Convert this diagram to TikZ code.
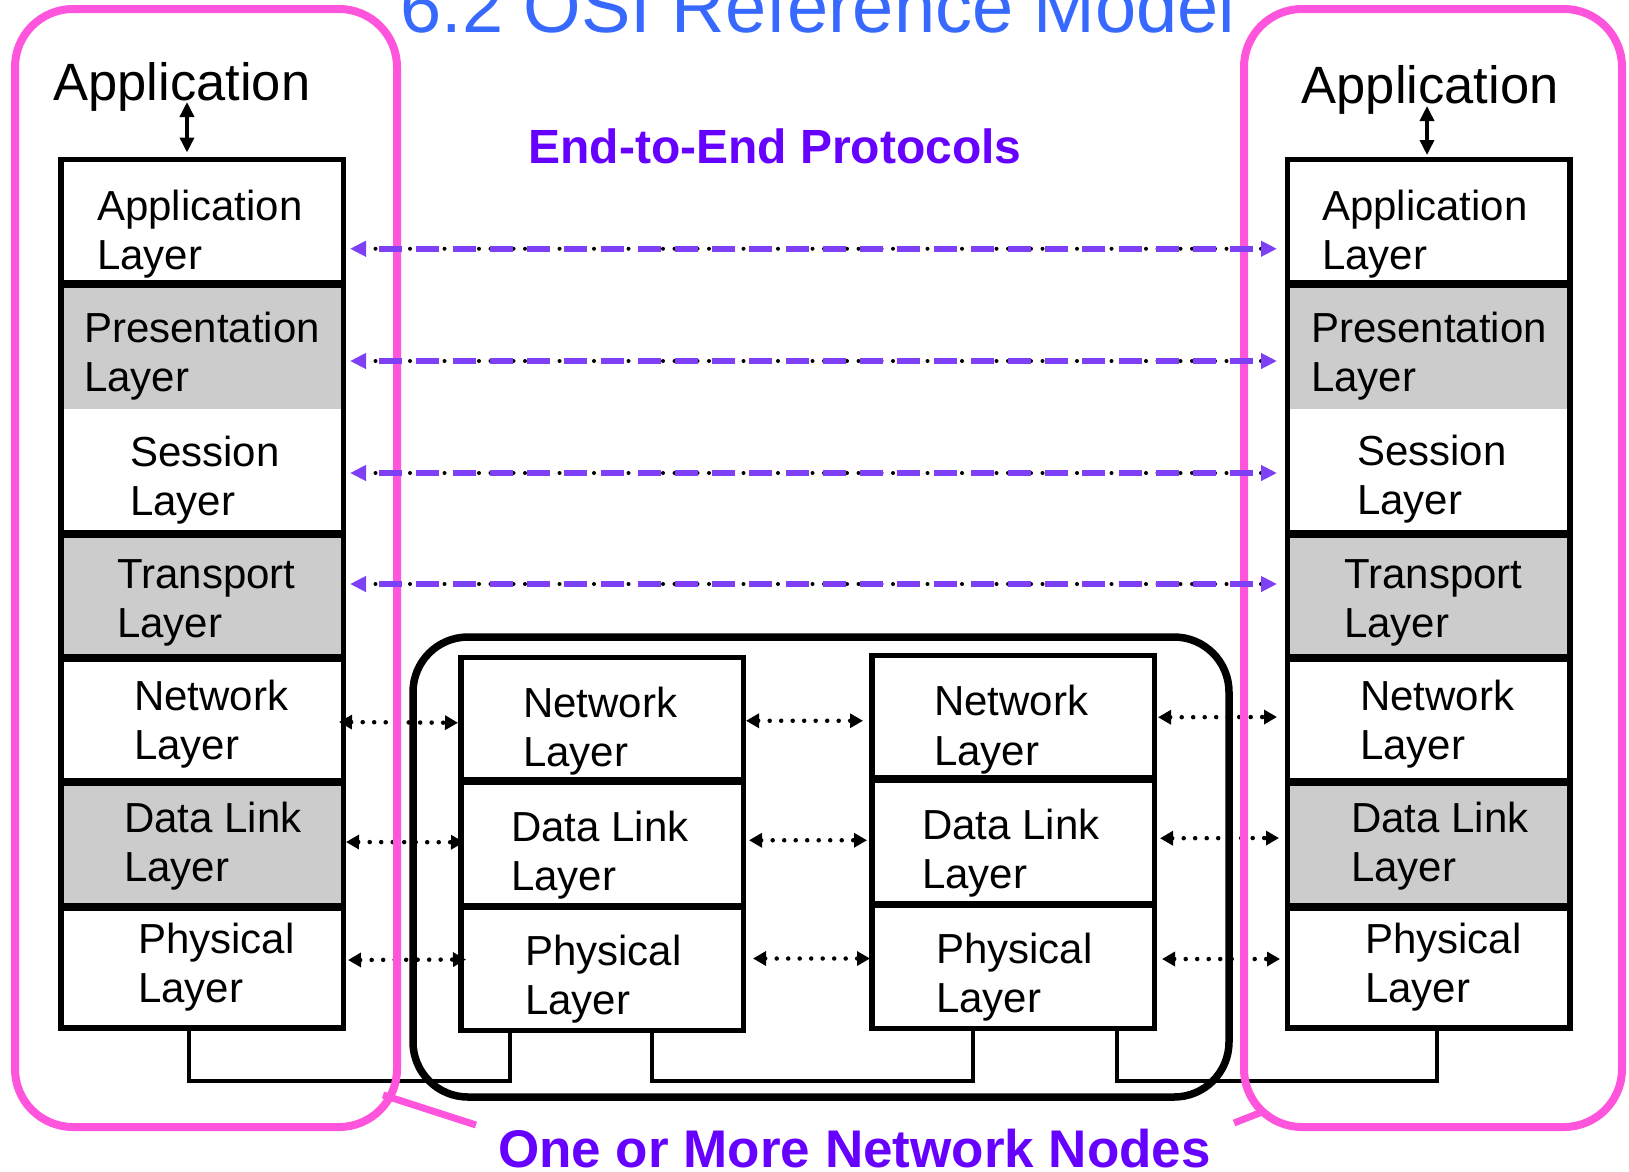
\documentclass[tikz,border=0pt]{standalone}
\usepackage{fontspec}
\setmainfont{Liberation Sans}
\usetikzlibrary{arrows.meta,calc}
\definecolor{titleblue}{RGB}{55,105,255}
\definecolor{txtpurple}{RGB}{102,0,255}
\definecolor{arrpurple}{RGB}{125,64,245}
\definecolor{hostpink}{RGB}{255,85,221}
\definecolor{layergray}{RGB}{204,204,204}
\begin{document}
\begin{tikzpicture}[x=1pt,y=-1pt,
  fillbox/.style={rectangle, inner sep=0pt, outer sep=0pt, minimum width=282.5pt, anchor=north west},
  ltext/.style={anchor=base west, align=left, inner sep=0pt, yshift=-49.5pt, font=\fontsize{42}{49.5}\selectfont},
  stackborder/.style={line width=5.5pt},
  stacksep/.style={line width=7.5pt},
  dotline/.style={line width=4.5pt, line cap=round, dash pattern=on 0pt off 11.5pt},
  dotarrow/.style={dotline, {Triangle[length=13pt,width=14pt]}-{Triangle[length=13pt,width=14pt]}},
  e2e/.style={draw=arrpurple, line width=5.5pt, dash pattern=on 23pt off 14pt, dash phase=23pt,
    {Triangle[length=16pt,width=15pt]}-{Triangle[length=16pt,width=15pt]},
    preaction={draw=black, -, line width=4pt, line cap=round, dash pattern=on 0pt off 11.5pt, shorten >=14pt, shorten <=14pt}},
  conn/.style={line width=4pt},
  hostbox/.style={rectangle, draw=hostpink, line width=8pt, rounded corners=58pt, inner sep=0pt},
  nodesbox/.style={rectangle, draw=black, line width=7.5pt, rounded corners=55pt, inner sep=0pt},
  pinkline/.style={draw=hostpink, line width=7pt},
  apparrow/.style={line width=3.5pt, {Triangle[length=15pt,width=14pt]}-{Triangle[length=15pt,width=14pt]}}
]
\useasboundingbox (0,0) rectangle (1629,1171);

% ---------- left end system ----------
\node[fillbox, minimum height=124.5pt, fill=white] (Lapp) at (61,159.5) {};
\node[fillbox, minimum height=125pt, fill=layergray] (Lpre) at (61,284) {};
\node[fillbox, minimum height=125pt, fill=white] (Lses) at (61,409) {};
\node[fillbox, minimum height=124pt, fill=layergray] (Ltra) at (61,534) {};
\node[fillbox, minimum height=124pt, fill=white] (Lnet) at (61,658) {};
\node[fillbox, minimum height=125pt, fill=layergray] (Ldl) at (61,782) {};
\node[fillbox, minimum height=121pt, fill=white] (Lphy) at (61,907) {};
\draw[stackborder] (Lapp.north west) rectangle (Lphy.south east);
\foreach \n in {Lpre,Ltra,Lnet,Ldl,Lphy} \draw[stacksep] (\n.north west) -- (\n.north east);
\node[ltext] (tLapp) at (97,220) {Application\\Layer};
\node[ltext] (tLpre) at (84,342) {Presentation\\Layer};
\node[ltext] (tLses) at (130,466) {Session\\Layer};
\node[ltext] (tLtra) at (117,588) {Transport\\Layer};
\node[ltext] (tLnet) at (134,710) {Network\\Layer};
\node[ltext] (tLdl) at (124,832) {Data Link\\Layer};
\node[ltext] (tLphy) at (138,953) {Physical\\Layer};

% ---------- right end system ----------
\node[fillbox, minimum height=124.5pt, fill=white] (Rapp) at (1287.5,159.5) {};
\node[fillbox, minimum height=125pt, fill=layergray] (Rpre) at (1287.5,284) {};
\node[fillbox, minimum height=125pt, fill=white] (Rses) at (1287.5,409) {};
\node[fillbox, minimum height=124pt, fill=layergray] (Rtra) at (1287.5,534) {};
\node[fillbox, minimum height=124pt, fill=white] (Rnet) at (1287.5,658) {};
\node[fillbox, minimum height=125pt, fill=layergray] (Rdl) at (1287.5,782) {};
\node[fillbox, minimum height=121pt, fill=white] (Rphy) at (1287.5,907) {};
\draw[stackborder] (Rapp.north west) rectangle (Rphy.south east);
\foreach \n in {Rpre,Rtra,Rnet,Rdl,Rphy} \draw[stacksep] (\n.north west) -- (\n.north east);
\node[ltext] (tRapp) at (1322,220) {Application\\Layer};
\node[ltext] (tRpre) at (1311,342) {Presentation\\Layer};
\node[ltext] (tRses) at (1357,465) {Session\\Layer};
\node[ltext] (tRtra) at (1344,588) {Transport\\Layer};
\node[ltext] (tRnet) at (1360,710) {Network\\Layer};
\node[ltext] (tRdl) at (1351,832) {Data Link\\Layer};
\node[ltext] (tRphy) at (1365,953) {Physical\\Layer};

% ---------- network node 1 ----------
\node[fillbox, minimum height=123.5pt, fill=white] (M1net) at (461,657.5) {};
\node[fillbox, minimum height=125.5pt, fill=white] (M1dl) at (461,781) {};
\node[fillbox, minimum height=124pt, fill=white] (M1phy) at (461,906.5) {};
\draw[stackborder] (M1net.north west) rectangle (M1phy.south east);
\foreach \n in {M1dl,M1phy} \draw[stacksep] (\n.north west) -- (\n.north east);
\node[ltext] (tM1net) at (523,717) {Network\\Layer};
\node[ltext] (tM1dl) at (511,841) {Data Link\\Layer};
\node[ltext] (tM1phy) at (525,965) {Physical\\Layer};

% ---------- network node 2 ----------
\node[fillbox, minimum height=123.5pt, fill=white] (M2net) at (872,655.5) {};
\node[fillbox, minimum height=125.5pt, fill=white] (M2dl) at (872,779) {};
\node[fillbox, minimum height=124pt, fill=white] (M2phy) at (872,904.5) {};
\draw[stackborder] (M2net.north west) rectangle (M2phy.south east);
\foreach \n in {M2dl,M2phy} \draw[stacksep] (\n.north west) -- (\n.north east);
\node[ltext] (tM2net) at (934,715.5) {Network\\Layer};
\node[ltext] (tM2dl) at (922,839) {Data Link\\Layer};
\node[ltext] (tM2phy) at (936,963) {Physical\\Layer};

% ---------- peer (hop-by-hop) arrows ----------
\draw[dotarrow] ($(Lnet.east)+(-4.5,2)$) -- ($(M1net.west)+(-3,3.5)$);
\draw[dotarrow] ($(M1net.east)+(2.5,1.5)$) -- ($(M2net.west)+(-9,3.5)$);
\draw[dotarrow] ($(M2net.east)+(3.5,0)$) -- ($(Rnet.west)+(-10.5,-3)$);
\draw[dotarrow] ($(Ldl.east)+(2.5,-2.5)$) -- ($(M1dl.west)+(3,-1.5)$);
\draw[dotarrow] ($(M1dl.east)+(5.5,-3.5)$) -- ($(M2dl.west)+(-5,-1.5)$);
\draw[dotarrow] ($(M2dl.east)+(5.5,-3.5)$) -- ($(Rdl.west)+(-8.5,-6.5)$);
\draw[dotarrow] ($(Lphy.east)+(4.5,-7.5)$) -- ($(M1phy.west)+(5,-9)$);
\draw[dotarrow] ($(M1phy.east)+(9.5,-10)$) -- ($(M2phy.west)+(-2,-8)$);
\draw[dotarrow] ($(M2phy.east)+(7.5,-7.5)$) -- ($(Rphy.west)+(-7.5,-8.5)$);

% ---------- physical medium ----------
\draw[conn] ([xshift=128pt]Lphy.south west) -- ++(0,53) -| ([xshift=48.5pt]M1phy.south west);
\draw[conn] ([xshift=191pt]M1phy.south west) -- ++(0,50.5) -| ([xshift=101pt]M2phy.south west);
\draw[conn] ([xshift=245pt]M2phy.south west) -- ++(0,52.5) -| ([xshift=149.5pt]Rphy.south west);

% ---------- grouping outlines ----------
\node[hostbox, minimum width=382pt, minimum height=1118pt] (hostL) at (206,568) {};
\node[hostbox, minimum width=378pt, minimum height=1118pt] (hostR) at (1433,568) {};
\node[nodesbox, minimum width=816pt, minimum height=460pt] (netnodes) at (821,867) {};

% ---------- labels ----------
\node[anchor=base, inner sep=0pt, text=titleblue, font=\fontsize{74}{80}\selectfont] (title) at (818,32) {6.2 OSI Reference Model};
\node[anchor=base, inner sep=0pt, text=txtpurple, font=\bfseries\fontsize{48}{52}\selectfont] (e2elabel) at (775,163) {End-to-End Protocols};
\node[anchor=base, inner sep=0pt, text=txtpurple, font=\bfseries\fontsize{53}{58}\selectfont] (nnlabel) at (854.5,1167) {One or More Network Nodes};
\node[anchor=base, inner sep=0pt, font=\fontsize{52.5}{58}\selectfont] (appL) at (182,100) {Application};
\node[anchor=base, inner sep=0pt, font=\fontsize{52.5}{58}\selectfont] (appR) at (1430,103) {Application};

% ---------- callout lines ----------
\coordinate (cl1) at (383,1095);
\coordinate (cl2) at (476,1125);
\coordinate (cr1) at (1234,1123);
\coordinate (cr2) at (1262,1112);
\draw[pinkline] (cl1) -- (cl2);
\draw[pinkline] (cr1) -- (cr2);

% ---------- end-to-end protocol arrows ----------
\draw[e2e] ($(Lapp.east)+(6.5,27)$) -- ($(Rapp.west)+(-10.5,27)$);
\draw[e2e] ($(Lpre.east)+(6.5,14.5)$) -- ($(Rpre.west)+(-10.5,14.5)$);
\draw[e2e] ($(Lses.east)+(6.5,1.5)$) -- ($(Rses.west)+(-10.5,1.5)$);
\draw[e2e] ($(Ltra.east)+(6.5,-12)$) -- ($(Rtra.west)+(-10.5,-12)$);

% ---------- application interface arrows ----------
\coordinate (aL) at (187,102);
\coordinate (aR) at (1427,106);
\draw[apparrow, shorten >=7pt] (aL) -- (aL |- Lapp.north);
\draw[apparrow, shorten >=4.5pt] (aR) -- (aR |- Rapp.north);
\end{tikzpicture}
\end{document}
